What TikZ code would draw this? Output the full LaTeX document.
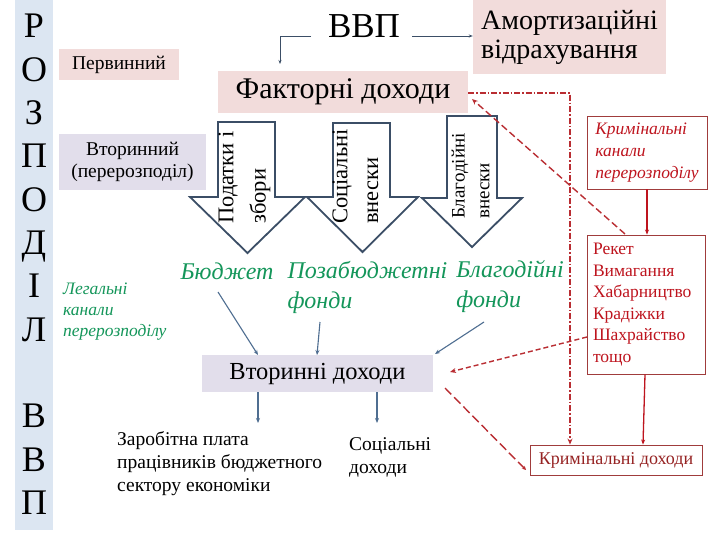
\documentclass[tikz,border=0pt]{standalone}
\usepackage{fontspec}
\setmainfont{Liberation Serif}
\usetikzlibrary{arrows.meta,calc}
\definecolor{pinkbox}{RGB}{242,220,219}
\definecolor{lavbox}{RGB}{226,222,235}
\definecolor{bluebar}{RGB}{220,230,242}
\definecolor{slateline}{RGB}{59,78,102}
\definecolor{conline}{RGB}{79,110,145}
\definecolor{greentxt}{RGB}{20,150,90}
\definecolor{redtxt}{RGB}{190,20,30}
\definecolor{darkred}{RGB}{150,35,35}
\definecolor{redbord}{RGB}{160,60,60}
\definecolor{reddash}{RGB}{185,45,50}
\begin{document}
\begin{tikzpicture}[x=1pt,y=-1pt,
  fs/.style={font=\fontsize{#1}{#1}\selectfont},
  barletter/.style={anchor=base,inner sep=0pt,font=\fontsize{36}{36}\selectfont},
  filledbox/.style={fill=#1,minimum width=1pt,inner sep=0pt,text=black},
  blockarrow/.style={draw=slateline,line width=1.8pt,fill=white,line join=miter},
  rottext/.style={rotate=90,anchor=west,inner sep=0pt,font=\fontsize{#1}{#1}\selectfont},
  greenit/.style={text=greentxt,inner sep=0pt,align=left,font=\fontsize{24}{30}\itshape},
  con/.style={draw=conline,line width=1.1pt,-{Stealth[length=5pt,width=4pt]}},
  redbox/.style={draw=redbord,line width=0.9pt,inner sep=0pt},
  redarrow/.style={draw=redtxt,line width=1.3pt,-{Stealth[length=5pt,width=4pt]}},
  reddashed/.style={draw=reddash,line width=1.4pt,dash pattern=on 7pt off 3.5pt,-{Stealth[length=6pt,width=5pt]}},
  reddashdot/.style={draw=reddash,line width=1.4pt,dash pattern=on 6pt off 2pt on 1.5pt off 2pt,-{Stealth[length=6pt,width=5pt]}}
]
\useasboundingbox (0,0) rectangle (720,540);
\fill[white] (0,0) rectangle (720,540);

% left bar
\fill[bluebar] (15,0) rectangle (53,530);
\foreach \l/\i in {Р/0,О/1,З/2,П/3,О/4,Д/5,І/6,Л/7,В/9,В/10,П/11}{
  \node[barletter] (bar\i) at (34,{38+43.3*\i}) {\l};
}

% top boxes
\node[filledbox=pinkbox,minimum width=120pt,minimum height=31pt,fs=19.5] (perv) at (119,64.5) {Первинний};
\node[filledbox=lavbox,minimum width=147pt,minimum height=56pt,align=center,font=\fontsize{19.5}{22}\selectfont] (vtor) at (132.5,162) {Вторинний\\(перерозподіл)};
\node[inner sep=0pt,fs=35] (vvp) at (364,26) {ВВП};
\node[filledbox=pinkbox,minimum width=193pt,minimum height=74pt,align=left,font=\fontsize{28}{29}\selectfont] (amort) at (569.5,37) {Амортизаційні\\відрахування};
\node[filledbox=pinkbox,minimum width=250pt,minimum height=42pt,fs=30] (fakt) at (343,92) {Факторні доходи};

\coordinate (vvpL) at (311,36);
\coordinate (vvpR) at (412,36);
\draw[draw=slateline,line width=0.9pt,-{Stealth[length=4pt,width=3pt]}] (vvpL) -| (280,64);
\draw[draw=slateline,line width=0.9pt,-{Stealth[length=4pt,width=3pt]}] (vvpR) -- (amort.west |- vvpR);

% block arrows
\draw[blockarrow] (218,122) -- (275,122) -- (275,197) -- (305,197) -- (247.5,253) -- (190,197) -- (218,197) -- cycle;
\draw[blockarrow] (333,123) -- (390,123) -- (390,197) -- (418,197) -- (362.5,252) -- (307,197) -- (333,197) -- cycle;
\draw[blockarrow] (447,116) -- (497,116) -- (497,198) -- (522,198) -- (472,247) -- (422,198) -- (447,198) -- cycle;
\node[rottext=22.5] (t1a) at (228,224) {Податки і};
\node[rottext=22.5] (t1b) at (260,224) {збори};
\node[rottext=22.5] (t2a) at (342,224) {Соціальні};
\node[rottext=22.5] (t2b) at (373,224) {внески};
\node[rottext=19] (t3a) at (460,219) {Благодійні};
\node[rottext=19] (t3b) at (485,219) {внески};

% green labels
\node[greenit] (budg) at (227,271) {Бюджет};
\node[greenit] (pozab) at (367.5,287) {Позабюджетні\\фонди};
\node[greenit] (blag) at (510,287) {Благодійні\\фонди};
\node[text=greentxt,inner sep=0pt,align=left,anchor=west,font=\fontsize{17.5}{21}\itshape] (legal) at (63,312) {Легальні\\канали\\перерозподілу};

% secondary incomes
\node[filledbox=lavbox,minimum width=231pt,minimum height=37pt,fs=24.5] (vtdoh) at (317.5,373.5) {Вторинні доходи};
\coordinate (budgS) at (218,292);
\coordinate (vtA) at (258,355);
\coordinate (pozS) at (320,322);
\coordinate (vtB) at (317,355);
\coordinate (blagS) at (484,322);
\coordinate (vtC) at (435,354);
\draw[con] (budgS) -- (vtA);
\draw[con] (pozS) -- (vtB);
\draw[con] (blagS) -- (vtC);

\node[inner sep=0pt,align=left,anchor=west,font=\fontsize{19.5}{23}\selectfont] (zarp) at (117,464) {Заробітна плата\\працівників бюджетного\\сектору економіки};
\node[inner sep=0pt,align=left,anchor=west,font=\fontsize{19.5}{23}\selectfont] (socd) at (349,457) {Соціальні\\доходи};
\coordinate (zarpT) at (258,423);
\coordinate (socdT) at (377,423);
\draw[con] (vtdoh.south -| zarpT) -- (zarpT);
\draw[con] (vtdoh.south -| socdT) -- (socdT);

% criminal part
\node[redbox,minimum width=120pt,minimum height=73pt,text=redtxt,align=left,font=\fontsize{17.5}{22}\itshape] (krkan) at (647,152.5) {Кримінальні\\канали\\перерозподілу};
\node[redbox,minimum width=118pt,minimum height=139pt,text=redtxt,align=left,font=\fontsize{17.5}{21.6}\selectfont,text width=106pt] (reket) at (646,304.5) {Рекет\\Вимагання\\Хабарництво\\Крадіжки\\Шахрайство\\тощо};
\node[redbox,minimum width=172pt,minimum height=30pt,text=darkred,fs=18] (krdoh) at (616,460) {Кримінальні доходи};

\draw[redarrow] (krkan.south -| 647,0) -- (reket.north -| 647,0);
\draw[redarrow] (reket.south -| 645,0) -- (krdoh.north -| 643,0);

\coordinate (corner) at (570,93);
\draw[reddashdot] (fakt.east |- corner) -- (corner) -- (krdoh.north -| corner);
\coordinate (rekTL) at (625,234);
\coordinate (faktBR) at (472,99);
\draw[reddashed] (rekTL) -- (faktBR);
\coordinate (rekW) at (587,337);
\coordinate (vtdohR) at (450,372);
\draw[reddashed,dash pattern=on 5pt off 3pt] (rekW) -- (vtdohR);
\coordinate (vtdohBR) at (445,388);
\coordinate (krdohW) at (526,470);
\draw[reddashed,dash pattern=on 9pt off 4pt,-{Stealth[length=4pt,width=4pt]}] (vtdohBR) -- (krdohW);
\end{tikzpicture}
\end{document}
